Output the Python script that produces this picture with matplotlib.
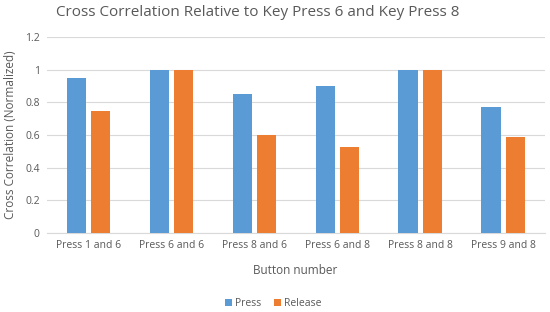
import matplotlib
matplotlib.use("Agg")
import matplotlib.pyplot as plt
import numpy as np

plt.rcParams["font.family"] = ["Open Sans", "DejaVu Sans"]

categories = ["Press 1 and 6", "Press 6 and 6", "Press 8 and 6",
              "Press 6 and 8", "Press 8 and 8", "Press 9 and 8"]
press = [0.95, 1.0, 0.85, 0.90, 1.0, 0.77]
release = [0.75, 1.0, 0.60, 0.53, 1.0, 0.59]

text_c = "#595959"
fig = plt.figure(figsize=(5.5, 3.12), dpi=100)
ax = fig.add_axes([0.085, 0.253, 0.905, 0.628])

x = np.arange(len(categories))
w = 0.23
ax.bar(x - 0.145, press, w, color="#5B9BD5", label="Press", zorder=3)
ax.bar(x + 0.145, release, w, color="#ED7D31", label="Release", zorder=3)

ax.set_xlim(-0.5, len(categories) - 0.5)
ax.set_ylim(0, 1.2)
ax.set_yticks(np.arange(0, 1.21, 0.2))
ax.set_yticklabels(["0", "0.2", "0.4", "0.6", "0.8", "1", "1.2"])
ax.set_xticks(x)
ax.set_xticklabels(categories)
ax.tick_params(length=0, colors=text_c, labelsize=7.5, pad=5)
ax.grid(axis="y", color="#d9d9d9", lw=0.8, zorder=0)
for s in ["top", "right", "left"]:
    ax.spines[s].set_visible(False)
ax.spines["bottom"].set_color("#d9d9d9")

ax.set_xlabel("Button number", color=text_c, fontsize=8.5, labelpad=9)
ax.set_ylabel("Cross Correlation (Normalized)", color=text_c, fontsize=8.5, labelpad=6)
fig.text(0.468, 0.985, "Cross Correlation Relative to Key Press 6 and Key Press 8",
         color=text_c, fontsize=11, ha="center", va="top")
fig.legend(loc="lower center", bbox_to_anchor=(0.497, -0.02), ncol=2, frameon=False,
           fontsize=7.5, labelcolor=text_c, handlelength=0.7, handleheight=0.7,
           columnspacing=1.2, handletextpad=0.3)

fig.savefig("out.png", dpi=100)
